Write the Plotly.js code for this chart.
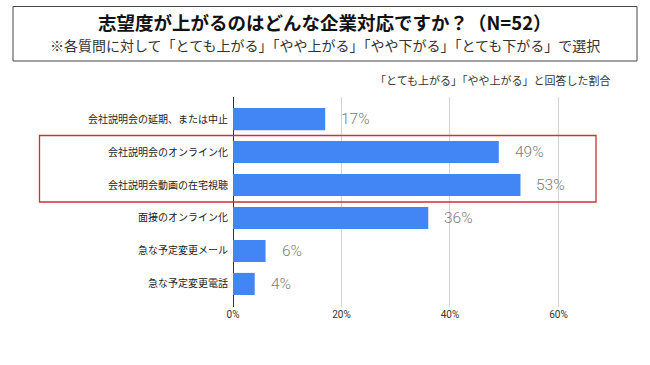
<!DOCTYPE html>
<html>
<head>
<meta charset="utf-8">
<script src="https://cdn.plot.ly/plotly-3.0.1.min.js"></script>
<style>html,body{margin:0;padding:0;background:#fff;}#chart{width:650px;height:365px;}</style>
</head>
<body>
<div id="chart"></div>
<script>
const categories = [
  "会社説明会の延期、または中止",
  "会社説明会のオンライン化",
  "会社説明会動画の在宅視聴",
  "面接のオンライン化",
  "急な予定変更メール",
  "急な予定変更電話"
];
const values = [17, 49, 53, 36, 6, 4];
const xTickVals = [0, 20, 40, 60];
const xTickText = ["0%", "20%", "40%", "60%"];
const titleText = "志望度が上がるのはどんな企業対応ですか？（N=52）";
const subtitleText = "※各質問に対して「とても上がる」「やや上がる」「やや下がる」「とても下がる」で選択";
const noteText = "「とても上がる」「やや上がる」と回答した割合";

const jp = "'Noto Sans CJK JP', 'Noto Sans', sans-serif";

const trace = {
  type: "bar",
  orientation: "h",
  y: categories,
  x: values,
  width: 0.67,
  marker: {color: "#4285F4", line: {width: 0}},
  hoverinfo: "none"
};

const valueAnnotations = values.map((v, i) => ({
  x: v, y: categories[i], xref: "x", yref: "y",
  text: v + "%", showarrow: false, xanchor: "left", yanchor: "middle",
  xshift: 14,
  font: {family: "Roboto, sans-serif", size: 15.5, weight: 300, color: "#7a7a7a"}
}));

const layout = {
  width: 650, height: 365,
  margin: {l: 233, r: 59, t: 97, b: 58},
  paper_bgcolor: "#fff", plot_bgcolor: "#fff",
  showlegend: false,
  xaxis: {
    range: [0, 66],
    tickvals: xTickVals, ticktext: xTickText,
    showgrid: true, gridcolor: "#d3d3d3", gridwidth: 1,
    zeroline: true, zerolinecolor: "#333", zerolinewidth: 1,
    showline: false, ticks: "",
    tickfont: {family: "Roboto, sans-serif", size: 10, color: "#333"},
    fixedrange: true
  },
  yaxis: {
    type: "category",
    range: [5.7, -0.67],
    showgrid: false, zeroline: false, showline: false, ticks: "",
    ticklabelstandoff: 4,
    tickfont: {family: jp, size: 10, color: "#222"},
    fixedrange: true
  },
  shapes: [
    {type: "rect", xref: "paper", yref: "paper",
     x0: -0.6145, x1: 1.1285, y0: 1.1714, y1: 1.431,
     line: {color: "#444", width: 1}, fillcolor: "rgba(0,0,0,0)"},
    {type: "rect", xref: "paper", yref: "paper",
     x0: -0.5405, x1: 1.014, y0: 0.5, y1: 0.8167,
     line: {color: "#cc3333", width: 1.3}, fillcolor: "rgba(0,0,0,0)"}
  ],
  annotations: [
    {text: "<b>" + titleText + "</b>", xref: "paper", yref: "paper",
     x: 0.2570, y: 1.357, xanchor: "center", yanchor: "middle", showarrow: false,
     font: {family: jp, size: 18.5, color: "#111"}},
    {text: subtitleText, xref: "paper", yref: "paper",
     x: 0.2570, y: 1.2476, xanchor: "center", yanchor: "middle", showarrow: false,
     font: {family: jp, size: 14, color: "#333"}},
    {text: noteText, xref: "paper", yref: "paper",
     x: 1.0615, y: 1.083, xanchor: "right", yanchor: "middle", showarrow: false,
     font: {family: jp, size: 11, color: "#333"}}
  ].concat(valueAnnotations)
};

Plotly.newPlot("chart", [trace], layout, {displayModeBar: false, staticPlot: true});
</script>
</body>
</html>
